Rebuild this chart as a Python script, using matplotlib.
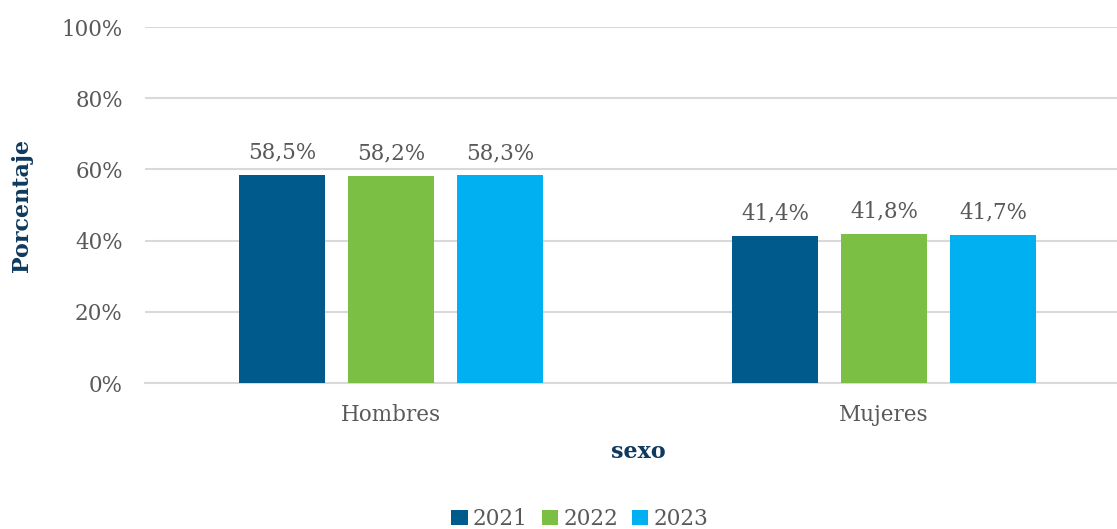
import matplotlib.pyplot as plt
import numpy as np

categories = ["Hombres", "Mujeres"]
years = ["2021", "2022", "2023"]
values = {
    "2021": [58.5, 41.4],
    "2022": [58.2, 41.8],
    "2023": [58.3, 41.7],
}
colors = ["#005A8C", "#7BBF44", "#00B0F0"]
yticks = [0, 20, 40, 60, 80, 100]

plt.rcParams['font.family'] = ['DejaVu Serif']
gray = "#595959"
navy = "#0E3A5F"

fig = plt.figure(figsize=(11.17, 5.29), dpi=100)
ax = fig.add_axes([145/1117, 146/529, 972/1117, 356/529])

x = np.arange(len(categories))
offset = 0.2211
width = 0.1744
for i, y in enumerate(years):
    pos = x + (i - 1) * offset
    bars = ax.bar(pos, values[y], width, color=colors[i], label=y, zorder=3)
    for b, v in zip(bars, values[y]):
        ax.text(b.get_x() + b.get_width()/2, v + 3.2, f"{v:.1f}%".replace(".", ","),
                ha="center", va="bottom", fontsize=15.5, color=gray)

ax.set_xlim(-0.499, 1.4726)
ax.set_ylim(0, 100)
ax.set_yticks(yticks)
ax.set_yticklabels([f"{t}%" for t in yticks], fontsize=15.5, color=gray)
ax.yaxis.grid(True, color="#D9D9D9", linewidth=1.5, zorder=0)
ax.set_xticks(x)
ax.set_xticklabels(categories, fontsize=15.5, color=gray)
ax.tick_params(axis='both', length=0)
ax.tick_params(axis='y', pad=16)
ax.tick_params(axis='x', pad=15)
for s in ["top", "right", "left"]:
    ax.spines[s].set_visible(False)
ax.spines["bottom"].set_color("#D9D9D9")
ax.spines["bottom"].set_linewidth(1.5)

fig.text(22/1117, 1 - 205/529, "Porcentaje", rotation=90, ha="center", va="center",
         fontsize=16, fontweight="bold", color=navy)
fig.text(638/1117, 1 - 452/529, "sexo", ha="center", va="center",
         fontsize=16, fontweight="bold", color=navy)

leg = fig.legend(loc="center", bbox_to_anchor=(580/1117, 1 - 519/529), ncol=3,
                 frameon=False, fontsize=15.5, handlelength=0.75, handleheight=0.75,
                 handletextpad=0.25, columnspacing=0.65)
for t in leg.get_texts():
    t.set_color(gray)

fig.savefig("out.png", dpi=100)
